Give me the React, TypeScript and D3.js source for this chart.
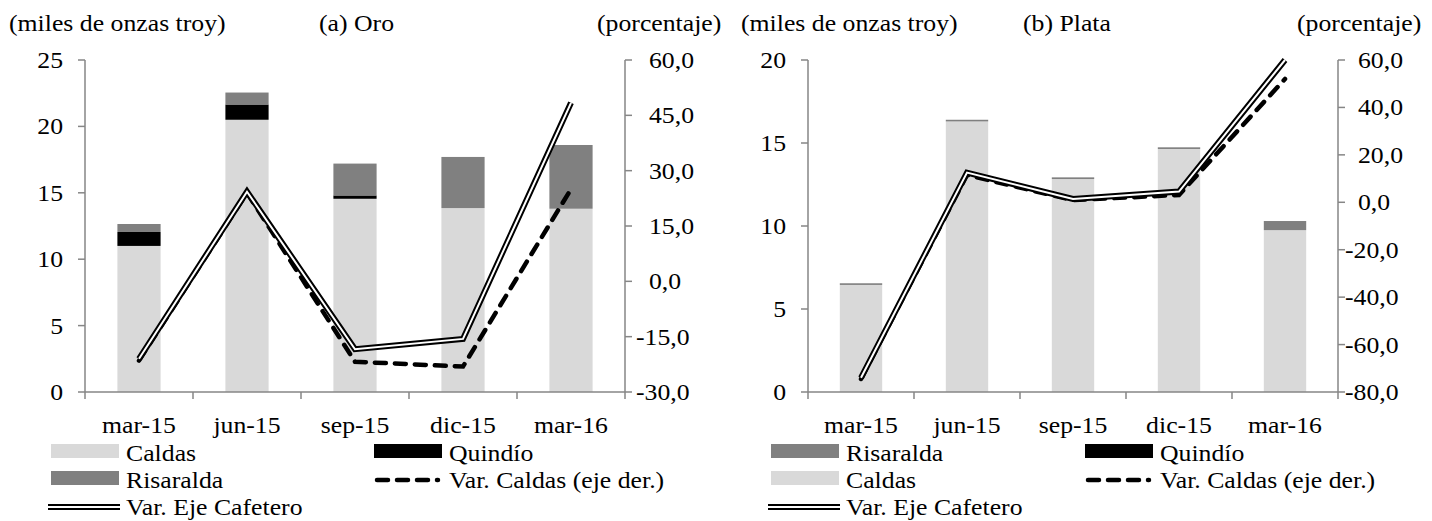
import React from "react";
import * as d3 from "d3";

const categories = ["mar-15", "jun-15", "sep-15", "dic-15", "mar-16"];

const oroCaldas = [11.0, 20.5, 14.55, 13.85, 13.8];
const oroQuindio = [1.05, 1.15, 0.25, 0, 0];
const oroRisaralda = [0.6, 0.9, 2.4, 3.85, 4.8];
const oroVarCaldas = [-21.5, 24.0, -21.8, -23.1, 25.0];
const oroVarEje = [-21.0, 24.3, -18.4, -15.6, 48.4];

const plataCaldas = [6.45, 16.3, 12.83, 14.64, 9.75];
const plataQuindio = [0, 0, 0, 0, 0];
const plataRisaralda = [0.1, 0.1, 0.1, 0.1, 0.55];
const plataVarCaldas = [-74.5, 11.5, 0.9, 3.1, 52.0];
const plataVarEje = [-74.0, 12.5, 1.4, 4.5, 60.0];

const oroLeftTicks = [0, 5, 10, 15, 20, 25];
const oroRightTicks = [-30, -15, 0, 15, 30, 45, 60];
const plataLeftTicks = [0, 5, 10, 15, 20];
const plataRightTicks = [-80, -60, -40, -20, 0, 20, 40, 60];

const COLORS: Record<string, string> = {
  Caldas: "#d9d9d9",
  "Quindío": "#000000",
  Risaralda: "#808080",
};
const AXIS = "#868686";
const FONT = "'Liberation Serif', 'Times New Roman', serif";
const FS = 23;
const SX = 1.12;

function fmtPct(v: number) {
  return v.toFixed(1).replace(".", ",");
}

function T({
  x,
  y,
  anchor = "start",
  children,
}: {
  x: number;
  y: number;
  anchor?: string;
  children: React.ReactNode;
}) {
  return (
    <text
      transform={`translate(${x},${y}) scale(${SX},1)`}
      textAnchor={anchor}
      fontSize={FS}
      fontFamily={FONT}
      fill="#000"
    >
      {children}
    </text>
  );
}

type PanelProps = {
  x0: number;
  x1: number;
  caldas: number[];
  quindio: number[];
  risaralda: number[];
  varCaldas: number[];
  varEje: number[];
  leftTicks: number[];
  rightTicks: number[];
  title: string;
  titleX: number;
  leftUnitX: number;
  pctX: number;
  rightLabelX: number;
  legendCol1: string[];
  legendX1: number;
  legendX2: number;
};

function DoubleLine({ d }: { d: string }) {
  return (
    <g>
      <path d={d} fill="none" stroke="#000" strokeWidth={6} strokeLinejoin="miter" />
      <path d={d} fill="none" stroke="#fff" strokeWidth={2} strokeLinejoin="miter" />
    </g>
  );
}

function Panel(p: PanelProps) {
  const yTop = 60;
  const yBot = 392;
  const x = d3
    .scaleBand<string>()
    .domain(categories)
    .range([p.x0, p.x1])
    .paddingInner(0.6)
    .paddingOuter(0.3);
  const yL = d3
    .scaleLinear()
    .domain([p.leftTicks[0], p.leftTicks[p.leftTicks.length - 1]])
    .range([yBot, yTop]);
  const yR = d3
    .scaleLinear()
    .domain([p.rightTicks[0], p.rightTicks[p.rightTicks.length - 1]])
    .range([yBot, yTop]);

  const rows = categories.map((c, i) => ({
    cat: c,
    Caldas: p.caldas[i],
    "Quindío": p.quindio[i],
    Risaralda: p.risaralda[i],
  }));
  const keys = ["Caldas", "Quindío", "Risaralda"];
  const stacked = d3.stack<any>().keys(keys)(rows);

  const cx = (c: string) => (x(c) as number) + x.bandwidth() / 2;
  const line = d3
    .line<number>()
    .x((_, i) => cx(categories[i]))
    .y((v) => yR(v));

  const step = x.step();
  const boundaries = d3.range(categories.length + 1).map((i) => p.x0 + i * step);

  const legendRowY = [461, 488, 515];
  const swatch = (key: string, sx: number, ty: number) => (
    <g key={key + sx}>
      <rect x={sx} y={ty - 17} width={68} height={14} fill={COLORS[key]} />
      <T x={sx + 75} y={ty}>
        {key}
      </T>
    </g>
  );

  return (
    <g>
      {/* titles */}
      <T x={p.leftUnitX} y={31}>
        (miles de onzas troy)
      </T>
      <T x={p.titleX} y={31}>
        {p.title}
      </T>
      <T x={p.pctX} y={31}>
        (porcentaje)
      </T>

      {/* bars */}
      {stacked.map((s) => (
        <g key={s.key} fill={COLORS[s.key]}>
          {s.map((d, i) =>
            d[1] - d[0] > 0 ? (
              <rect
                key={i}
                x={x(categories[i])}
                width={x.bandwidth()}
                y={yL(d[1])}
                height={yL(d[0]) - yL(d[1])}
              />
            ) : null
          )}
        </g>
      ))}

      {/* axes */}
      <g stroke={AXIS} strokeWidth={1.5} fill="none">
        <line x1={p.x0} x2={p.x0} y1={yTop} y2={yBot} />
        <line x1={p.x1} x2={p.x1} y1={yTop} y2={yBot} />
        <line x1={p.x0} x2={p.x1} y1={yBot} y2={yBot} />
        {p.leftTicks.map((t) => (
          <line key={"l" + t} x1={p.x0 - 7} x2={p.x0} y1={yL(t)} y2={yL(t)} />
        ))}
        {p.rightTicks.map((t) => (
          <line key={"r" + t} x1={p.x1} x2={p.x1 + 7} y1={yR(t)} y2={yR(t)} />
        ))}
        {boundaries.map((bx, i) => (
          <line key={"b" + i} x1={bx} x2={bx} y1={yBot} y2={yBot + 7} />
        ))}
      </g>
      {p.leftTicks.map((t) => (
        <T key={"lt" + t} x={p.x0 - 22} y={yL(t) + 8} anchor="end">
          {t}
        </T>
      ))}
      {p.rightTicks.map((t) => (
        <T key={"rt" + t} x={t < 0 ? p.rightLabelX - 13 : p.rightLabelX} y={yR(t) + 8}>
          {fmtPct(t)}
        </T>
      ))}
      {categories.map((c) => (
        <T key={"xt" + c} x={cx(c)} y={433} anchor="middle">
          {c}
        </T>
      ))}

      {/* lines */}
      <path
        d={line(p.varCaldas) || ""}
        fill="none"
        stroke="#000"
        strokeWidth={4.5}
        strokeDasharray="11,9"
        strokeLinecap="round"
      />
      <DoubleLine d={line(p.varEje) || ""} />

      {/* legend */}
      {swatch(p.legendCol1[0], p.legendX1, legendRowY[0])}
      {swatch(p.legendCol1[1], p.legendX1, legendRowY[1])}
      <g>
        <DoubleLine d={`M${p.legendX1 - 3},${legendRowY[2] - 8}L${p.legendX1 + 69},${legendRowY[2] - 8}`} />
        <T x={p.legendX1 + 75} y={legendRowY[2]}>
          Var. Eje Cafetero
        </T>
      </g>
      {swatch("Quindío", p.legendX2, legendRowY[0])}
      <g>
        <line
          x1={p.legendX2 + 3}
          x2={p.legendX2 + 64}
          y1={legendRowY[1] - 8}
          y2={legendRowY[1] - 8}
          stroke="#000"
          strokeWidth={4.5}
          strokeDasharray="11,9"
          strokeLinecap="round"
        />
        <T x={p.legendX2 + 75} y={legendRowY[1]}>
          Var. Caldas (eje der.)
        </T>
      </g>
    </g>
  );
}

export default function App() {
  return (
    <svg
      width={1432}
      height={521}
      style={{ position: "absolute", left: 0, top: 0, background: "#fff" }}
    >
      <rect width={1432} height={521} fill="#fff" />
      <Panel
        x0={85}
        x1={625}
        caldas={oroCaldas}
        quindio={oroQuindio}
        risaralda={oroRisaralda}
        varCaldas={oroVarCaldas}
        varEje={oroVarEje}
        leftTicks={oroLeftTicks}
        rightTicks={oroRightTicks}
        title="(a) Oro"
        titleX={319}
        leftUnitX={9}
        pctX={597}
        rightLabelX={649}
        legendCol1={["Caldas", "Risaralda"]}
        legendX1={51}
        legendX2={374}
      />
      <Panel
        x0={808}
        x1={1338}
        caldas={plataCaldas}
        quindio={plataQuindio}
        risaralda={plataRisaralda}
        varCaldas={plataVarCaldas}
        varEje={plataVarEje}
        leftTicks={plataLeftTicks}
        rightTicks={plataRightTicks}
        title="(b) Plata"
        titleX={1023}
        leftUnitX={741}
        pctX={1297}
        rightLabelX={1358}
        legendCol1={["Risaralda", "Caldas"]}
        legendX1={771}
        legendX2={1085}
      />
    </svg>
  );
}
